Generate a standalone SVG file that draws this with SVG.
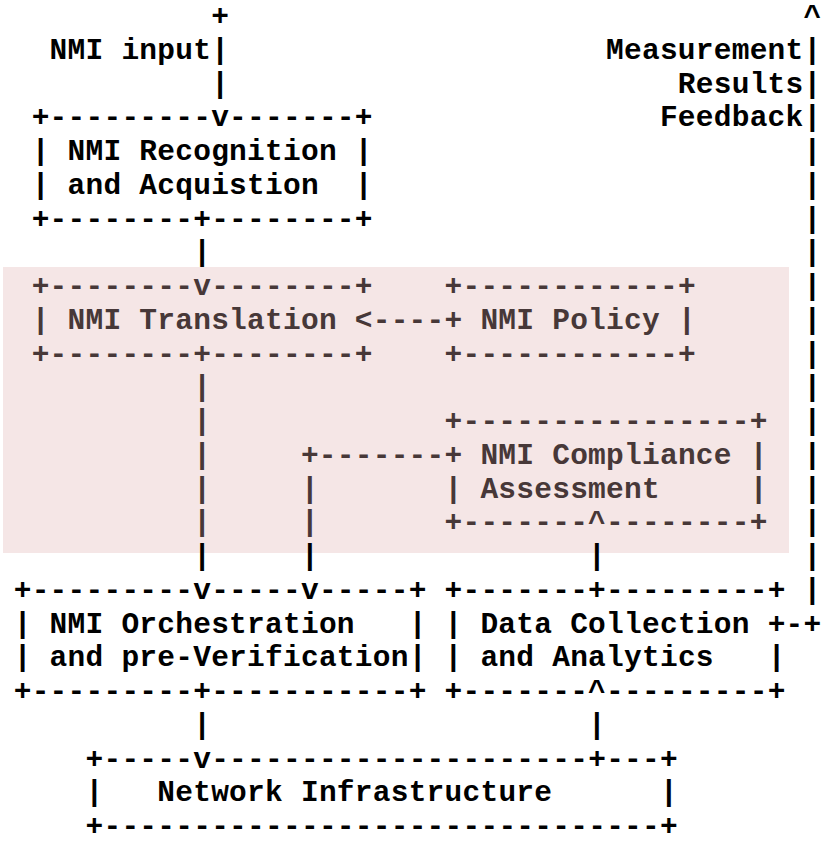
<svg xmlns="http://www.w3.org/2000/svg" width="827" height="844" viewBox="0 0 827 844" xml:space="preserve">
<style>
text{font-family:"Liberation Mono","Courier New",monospace;font-weight:bold;font-size:29.5px;letter-spacing:0.25px;fill:#000;white-space:pre}
text.p{fill:#473838}
</style>
<rect width="827" height="844" fill="#ffffff"/>
<rect id="highlight-region" x="3" y="267" width="786" height="286" fill="#f5e6e6"/>
<g id="nodes">
<g id="nmi-recognition">
<text x="31.65" y="126.25">+---------v-------+</text>
<text x="31.65" y="160">| NMI Recognition |</text>
<text x="31.65" y="193.75">| and Acquistion  |</text>
<text x="31.65" y="227.5">+--------+--------+</text>
</g>
<g id="nmi-translation">
<text class="p" x="31.65" y="295">+--------v--------+</text>
<text class="p" x="31.65" y="328.75">| NMI Translation</text>
<text class="p" x="31.65" y="362.5">+--------+--------+</text>
</g>
<g id="nmi-policy">
<text class="p" x="444.5" y="295">+------------+</text>
<text class="p" x="444.5" y="328.75">+ NMI Policy |</text>
<text class="p" x="444.5" y="362.5">+------------+</text>
</g>
<g id="nmi-compliance">
<text class="p" x="444.5" y="430">+----------------+</text>
<text class="p" x="444.5" y="463.75">+ NMI Compliance |</text>
<text class="p" x="444.5" y="497.5">| Assessment     |</text>
<text class="p" x="444.5" y="531.25">+-------^--------+</text>
</g>
<g id="nmi-orchestration">
<text x="13.7" y="598.75">+---------v-----v-----+</text>
<text x="13.7" y="632.5">| NMI Orchestration   |</text>
<text x="13.7" y="666.25">| and pre-Verification|</text>
<text x="13.7" y="700">+---------+-----------+</text>
</g>
<g id="data-collection">
<text x="444.5" y="598.75">+-------+---------+</text>
<text x="444.5" y="632.5">| Data Collection +</text>
<text x="444.5" y="666.25">| and Analytics   |</text>
<text x="444.5" y="700">+-------^---------+</text>
</g>
<g id="network-infrastructure">
<text x="85.5" y="767.5">+-----v---------------------+---+</text>
<text x="85.5" y="801.25">|   Network Infrastructure      |</text>
<text x="85.5" y="835">+-------------------------------+</text>
</g>
</g>
<g id="connectors">
<g id="nmi-input">
<text x="211.15" y="25">+</text>
<text x="49.6" y="58.75">NMI input|</text>
<text x="211.15" y="92.5">|</text>
</g>
<g id="feedback">
<text x="803.5" y="25">^</text>
<text x="606.05" y="58.75">Measurement|</text>
<text x="677.85" y="92.5">Results|</text>
<text x="659.9" y="126.25">Feedback|</text>
<text x="803.5" y="160">|</text>
<text x="803.5" y="193.75">|</text>
<text x="803.5" y="227.5">|</text>
<text x="803.5" y="261.25">|</text>
<text x="803.5" y="295">|</text>
<text x="803.5" y="328.75">|</text>
<text x="803.5" y="362.5">|</text>
<text x="803.5" y="396.25">|</text>
<text x="803.5" y="430">|</text>
<text x="803.5" y="463.75">|</text>
<text x="803.5" y="497.5">|</text>
<text x="803.5" y="531.25">|</text>
<text x="803.5" y="565">|</text>
<text x="803.5" y="598.75">|</text>
<text x="785.55" y="632.5">-+</text>
</g>
<g id="recognition-to-translation">
<text x="193.2" y="261.25">|</text>
</g>
<g id="policy-to-translation">
<text class="p" x="354.75" y="328.75">&lt;----</text>
</g>
<g id="translation-to-orchestration">
<text class="p" x="193.2" y="396.25">|</text>
<text class="p" x="193.2" y="430">|</text>
<text class="p" x="193.2" y="463.75">|</text>
<text class="p" x="193.2" y="497.5">|</text>
<text class="p" x="193.2" y="531.25">|</text>
<text x="193.2" y="565">|</text>
</g>
<g id="compliance-to-orchestration">
<text class="p" x="300.9" y="463.75">+-------</text>
<text class="p" x="300.9" y="497.5">|</text>
<text class="p" x="300.9" y="531.25">|</text>
<text x="300.9" y="565">|</text>
</g>
<g id="datacollection-to-compliance">
<text x="588.1" y="565">|</text>
</g>
<g id="orchestration-to-infrastructure">
<text x="193.2" y="733.75">|</text>
</g>
<g id="infrastructure-to-datacollection">
<text x="588.1" y="733.75">|</text>
</g>
</g>
</svg>
